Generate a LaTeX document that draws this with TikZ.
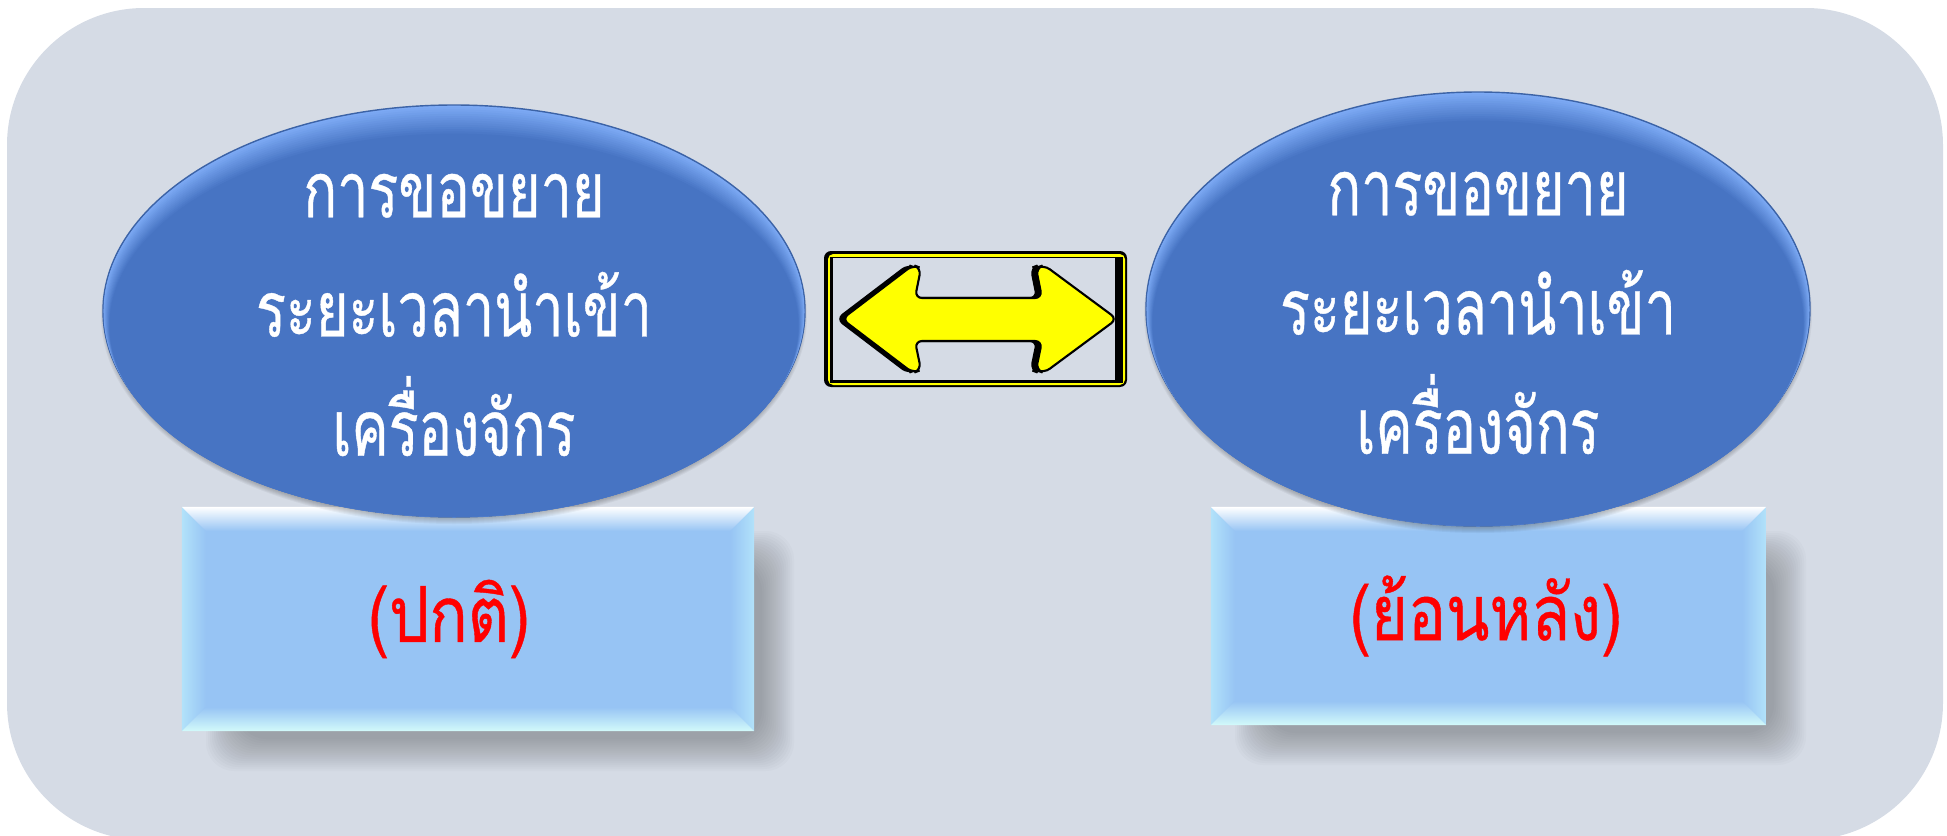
\documentclass[tikz,border=0pt]{standalone}
\usepackage{fontspec}
\usepackage{tikz}
\usetikzlibrary{calc}
\newfontfamily\thaifont[Script=Thai,FakeStretch=0.72,FakeBold=0.5]{Loma}
\newfontfamily\thailabel[Script=Thai,FakeStretch=0.82,FakeBold=0.5]{Loma}
\definecolor{panelgray}{HTML}{D5DBE5}
\definecolor{ovalblue}{HTML}{4774C3}
\definecolor{ovalrim}{HTML}{7DAAF5}
\definecolor{boxblue}{HTML}{97C4F4}
\definecolor{boxcyan}{HTML}{BFF8F8}
\definecolor{boxside}{HTML}{B2E2FA}
\definecolor{signyellow}{HTML}{FFFF00}
\tikzset{
	ovaltext/.style={text=white,align=center,font=\thaifont\fontsize{22pt}{33.9pt}\selectfont},
	bevelbox/.style={rectangle,fill=boxblue,inner sep=0pt,outer sep=0pt},
	boxlabel/.style={text=red,font=\thailabel\fontsize{22pt}{30pt}\selectfont},
	signarrow/.style={line width=0.6pt,rounded corners=2pt}
}
% soft shadow of a box, #1 = north west, #2 = south east
\newcommand{\boxshadow}[2]{
	\foreach \r in {-16,-14,...,16}
		\fill[black,opacity=0.016,rounded corners=8pt] ($(#1)+(40-\r,40-\r)$) rectangle ($(#2)+(24+\r,24+\r)$);
}
% bevel of a box node
\newcommand{\bevel}[1]{
	\coordinate (nw) at ($(#1.north west)+(24,24)$);
	\coordinate (ne) at ($(#1.north east)+(-24,24)$);
	\coordinate (sw) at ($(#1.south west)+(24,-24)$);
	\coordinate (se) at ($(#1.south east)+(-24,-24)$);
	\shade[left color=boxside,right color=boxblue] (#1.north west) -- (nw) -- (sw) -- (#1.south west) -- cycle;
	\shade[left color=boxblue,right color=boxside] (#1.north east) -- (ne) -- (se) -- (#1.south east) -- cycle;
	\shade[top color=white,middle color=boxcyan,bottom color=boxblue] (#1.north west) -- (#1.north east) -- (ne) -- (nw) -- cycle;
	\shade[top color=boxblue,middle color=boxcyan!60!boxblue,bottom color=boxcyan!70!white] (sw) -- (se) -- (#1.south east) -- (#1.south west) -- cycle;
}
% oval with light upper rim, #1 = x, #2 = y, #3 = x radius, #4 = y radius
\newcommand{\ovalbody}[4]{
	\foreach \r in {0,2,...,10}
		\fill[black,opacity=0.045] (#1,#2+5) ellipse [x radius=#3-3+\r*0.5,y radius=#4-3+\r*0.5];
	\draw[ovalblue!85!black,line width=0.4pt,fill=ovalrim] (#1,#2) ellipse [x radius=#3,y radius=#4];
	\foreach \k in {1,...,13} {
		\pgfmathsetmacro{\mixk}{\k*100/13}
		\fill[ovalblue!\mixk!ovalrim] (#1,#2+\k*1.1) ellipse [x radius=#3-\k*0.5,y radius=#4-\k*1.1];
	}
}
\newcommand{\arrowshape}{(842,319) -- (913,265) -- (921,268) -- (915,298) -- (1042,298) -- (1036,268) -- (1044,265) -- (1117,319) -- (1044,373) -- (1036,370) -- (1042,341) -- (915,341) -- (921,370) -- (913,373) -- cycle}

\begin{document}
\begin{tikzpicture}[x=0.01cm,y=-0.01cm]
	\useasboundingbox (0,0) rectangle (1947,836);
	\clip (0,0) rectangle (1947,836);
	% panel
	\fill[panelgray,rounded corners=1.37cm] (7,8) rectangle (1943,840);
	% shadows and boxes
	\boxshadow{182,507}{754,731}
	\boxshadow{1211,507}{1766,725}
	\node[bevelbox,minimum width=5.72cm,minimum height=2.24cm] (typeL) at (468,619) {};
	\node[bevelbox,minimum width=5.55cm,minimum height=2.18cm] (typeR) at (1488.5,616) {};
	\bevel{typeL}
	\bevel{typeR}
	\node[boxlabel] (labL) at (449,619) {(ปกติ)};
	\node[boxlabel] (labR) at (1486,616) {(ย้อนหลัง)};
	% ovals
	\ovalbody{454}{311}{351}{206}
	\ovalbody{1478}{309}{332}{217}
	\node[ovaltext] (reqL) at (454,315) {การขอขยาย\\ระยะเวลานำเข้า\\เครื่องจักร};
	\node[ovaltext] (reqR) at (1478,313) {การขอขยาย\\ระยะเวลานำเข้า\\เครื่องจักร};
	% sign
	\fill[black,rounded corners=2pt] (824,251) rectangle (1127,387);
	\fill[signyellow,rounded corners=1.5pt] (828,254) rectangle (1125,385);
	\fill[black] (830,257) rectangle (1123,383);
	\fill[panelgray] (833,258) rectangle (1115,380);
	\draw[signarrow,black,fill=black,xshift=-0.05cm] \arrowshape;
	\draw[signarrow,black,fill=signyellow] \arrowshape;
\end{tikzpicture}
\end{document}
